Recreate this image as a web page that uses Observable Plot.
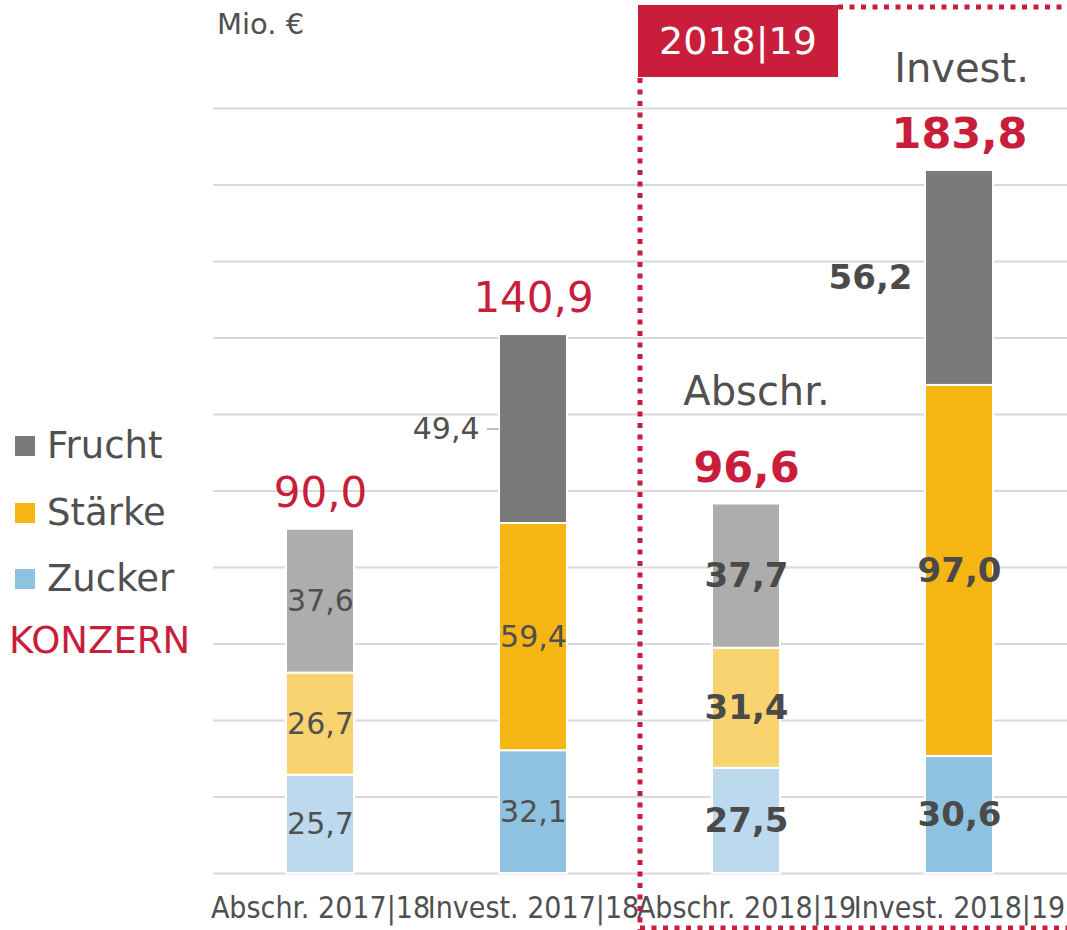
<!DOCTYPE html>
<html><head><meta charset="utf-8">
<script src="https://cdn.jsdelivr.net/npm/d3@7"></script>
<script src="https://cdn.jsdelivr.net/npm/@observablehq/plot@0.6"></script>
<style>
body{margin:0;background:#fff;font-family:"DejaVu Sans",sans-serif;}
#wrap{position:relative;width:1067px;height:930px;overflow:hidden;background:#fff}
#wrap > *{position:absolute}
.txt{color:#505050;white-space:nowrap;line-height:1}
.lg{display:flex;align-items:center;left:15px;font-size:37px;color:#505050;line-height:1}
.lg span.sw{display:inline-block;width:20px;height:20px;margin-right:12px}
</style></head><body><div id="wrap"></div>
<script>
// ---- data ----
const categories = ["Abschr. 2017|18", "Invest. 2017|18", "Abschr. 2018|19", "Invest. 2018|19"];
const kinds = ["Abschr.", "Invest.", "Abschr.", "Invest."];
const periods = ["2017|18", "2017|18", "2018|19", "2018|19"];
const segments = ["Zucker", "Stärke", "Frucht"];
const zucker = [25.7, 32.1, 27.5, 30.6];
const staerke = [26.7, 59.4, 31.4, 97.0];
const frucht = [37.6, 49.4, 37.7, 56.2];
const totals = [90.0, 140.9, 96.6, 183.8];
const gridTicks = [0, 20, 40, 60, 80, 100, 120, 140, 160, 180, 200];
const legendItems = ["Frucht", "Stärke", "Zucker"];
const outsideLabels = ["Invest. 2017|18|Frucht", "Invest. 2018|19|Frucht"];

// ---- styles ----
const RED = "#c81e3c";
const GRAY = "#505050";
const lightColors = {Zucker: "#bdd9ee", "Stärke": "#f9d36f", Frucht: "#adadad"};
const darkColors = {Zucker: "#8fc1e0", "Stärke": "#f5b513", Frucht: "#7a7a7a"};

const seriesValues = [zucker, staerke, frucht];
const rows = [];
categories.forEach((c, i) => segments.forEach((s, j) => rows.push({
  category: c, kind: kinds[i], period: periods[i], segment: s, value: seriesValues[j][i]
})));
const totalRows = categories.map((c, i) => ({category: c, kind: kinds[i], period: periods[i], total: totals[i]}));
const fmt = v => d3.format(".1f")(v).replace(".", ",");
const isOutside = d => outsideLabels.includes(d.category + "|" + d.segment);
const colorOf = d => (d.kind === "Abschr." ? lightColors : darkColors)[d.segment];
const midOf = d => {
  const i = categories.indexOf(d.category), j = segments.indexOf(d.segment);
  let below = 0;
  for (let k = 0; k < j; k++) below += seriesValues[k][i];
  return below + d.value / 2;
};

const stackOpts = (extra) => Plot.stackY({x: "category", y: "value", z: "segment", order: segments, ...extra});
const rows17 = rows.filter(d => d.period === "2017|18");
const rows18 = rows.filter(d => d.period === "2018|19");
const tot17 = totalRows.filter(d => d.period === "2017|18");
const tot18 = totalRows.filter(d => d.period === "2018|19");

const chart = Plot.plot({
  width: 1067, height: 930,
  marginLeft: 213, marginRight: 0, marginTop: 108, marginBottom: 57,
  x: {domain: categories, paddingInner: 0.68, paddingOuter: 0.34, axis: null},
  y: {domain: [0, 200], axis: null},
  color: {type: "identity"},
  style: {fontFamily: "DejaVu Sans", background: "transparent", color: GRAY},
  marks: [
    Plot.ruleY(gridTicks, {stroke: "#d9d9d9", strokeWidth: 2}),
    Plot.barY(rows, {x: "category", y: "value", z: "segment", order: segments, fill: colorOf, stroke: "white", strokeWidth: 2}),
    // segment labels inside bars
    Plot.text(rows17, stackOpts({text: d => isOutside(d) ? null : fmt(d.value), fill: GRAY, fontSize: 30})),
    Plot.text(rows18, stackOpts({text: d => isOutside(d) ? null : fmt(d.value), fill: "#4a4a4a", fontSize: 34, fontWeight: "bold"})),
    // labels outside bars
    Plot.text(rows17.filter(isOutside), {x: "category", y: midOf, text: d => fmt(d.value), fill: GRAY, fontSize: 30, textAnchor: "end", dx: -54}),
    Plot.tickY(rows17.filter(isOutside), {x: "category", y: midOf, stroke: "#bfbfbf", strokeWidth: 2, dx: -12, insetRight: 56}),
    Plot.text(rows18.filter(isOutside), {x: "category", y: midOf, text: d => fmt(d.value), fill: "#4a4a4a", fontSize: 34, fontWeight: "bold", textAnchor: "end", dx: -47}),
    // totals
    Plot.text(tot17, {x: "category", y: "total", text: d => fmt(d.total), fill: RED, fontSize: 42, dy: -36}),
    Plot.text(tot18, {x: "category", y: "total", text: d => fmt(d.total), fill: RED, fontSize: 43, fontWeight: "bold", dy: -36}),
    Plot.text(tot18.filter(d => d.kind === "Abschr."), {x: "category", y: "total", text: "kind", fill: GRAY, fontSize: 40, dy: -112, dx: 10}),
    Plot.text(tot18.filter(d => d.kind === "Invest."), {x: "category", y: "total", text: "kind", fill: GRAY, fontSize: 40, dy: -101, dx: 2}),
    // category labels
    Plot.text(categories, {x: d => d, frameAnchor: "bottom", text: d => d, dy: 44, fill: GRAY, fontSize: 30, fontFamily: "DejaVu Sans Condensed"})
  ]
});

const wrap = document.getElementById("wrap");
chart.style.left = "0px"; chart.style.top = "0px";
wrap.appendChild(chart);

// dotted frame around 2018|19
const ns = "http://www.w3.org/2000/svg";
const ov = document.createElementNS(ns, "svg");
ov.setAttribute("width", 1067); ov.setAttribute("height", 930);
ov.style.left = "0px"; ov.style.top = "0px";
[[640, 78, 640, 930], [838, 7, 1067, 7], [640, 928, 1067, 928]].forEach(([x1, y1, x2, y2]) => {
  const l = document.createElementNS(ns, "line");
  l.setAttribute("x1", x1); l.setAttribute("y1", y1); l.setAttribute("x2", x2); l.setAttribute("y2", y2);
  l.setAttribute("stroke", RED); l.setAttribute("stroke-width", 5); l.setAttribute("stroke-dasharray", "5 6.5");
  ov.appendChild(l);
});
wrap.appendChild(ov);

const box = document.createElement("div");
Object.assign(box.style, {left: "638px", top: "5px", width: "200px", height: "72px", background: RED, color: "#fff",
  fontSize: "38px", display: "flex", alignItems: "center", justifyContent: "center", lineHeight: "1"});
box.textContent = periods[2];
wrap.appendChild(box);

const unit = document.createElement("div");
unit.className = "txt";
Object.assign(unit.style, {left: "217px", top: "10px", fontSize: "29px"});
unit.textContent = "Mio. €";
wrap.appendChild(unit);

const legendTops = [427, 494, 560];
legendItems.forEach((s, i) => {
  const row = document.createElement("div");
  row.className = "lg";
  row.style.top = legendTops[i] + "px";
  row.innerHTML = `<span class="sw" style="background:${darkColors[s]}"></span><span>${s}</span>`;
  wrap.appendChild(row);
});
const konz = document.createElement("div");
konz.className = "txt";
Object.assign(konz.style, {left: "9px", top: "622px", fontSize: "37px", color: RED});
konz.textContent = "KONZERN";
wrap.appendChild(konz);
</script></body></html>
